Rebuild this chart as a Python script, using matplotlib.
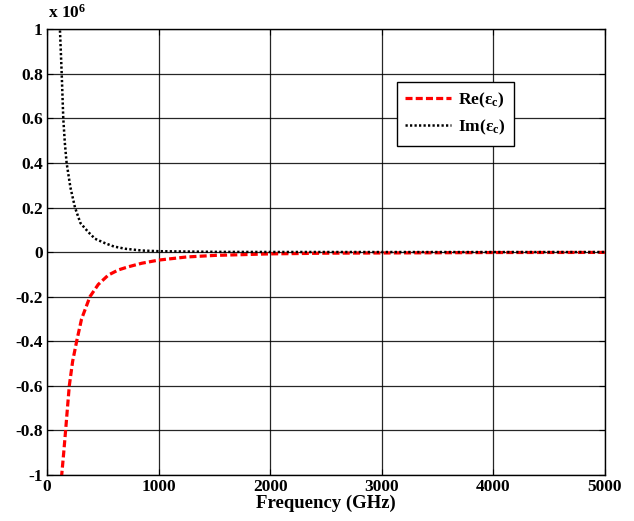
import numpy as np
import matplotlib
matplotlib.use("Agg")
import matplotlib.pyplot as plt
from matplotlib.ticker import FuncFormatter

plt.rcParams['font.family'] = ['Liberation Serif', 'DejaVu Serif']
plt.rcParams['font.weight'] = 'bold'
plt.rcParams['mathtext.fontset'] = 'custom'
plt.rcParams['mathtext.rm'] = 'Liberation Serif:bold'
plt.rcParams['mathtext.it'] = 'Liberation Serif:bold'
plt.rcParams['mathtext.bf'] = 'Liberation Serif:bold'

# Re(eps_c) (GHz, value)
re_freq = [120, 132, 150, 167, 185, 200, 230, 266, 310, 385, 460, 550, 640, 729, 850, 1000,
           1250, 1500, 2000, 2500, 3000, 4000, 5000]
re_vals = [-1.15e6, -1.0e6, -0.9e6, -0.8e6, -0.69e6, -0.6e6, -0.49e6, -0.40e6, -0.30e6, -0.2e6,
           -0.145e6, -0.103e6, -0.08e6, -0.066e6, -0.05e6, -0.036e6,
           -0.022e6, -0.015e6, -0.008e6, -0.005e6, -0.004e6, -0.002e6, -0.0015e6]

# Im(eps_c)
im_freq = [105, 116, 132, 146, 160, 176, 210, 251, 300, 370, 430, 520, 600, 700, 850, 1000,
           1500, 2000, 3000, 5000]
im_vals = [1.3e6, 1.0e6, 0.8e6, 0.6e6, 0.49e6, 0.4e6, 0.29e6, 0.2e6, 0.13e6, 0.09e6, 0.06e6,
           0.04e6, 0.025e6, 0.015e6, 0.007e6, 0.004e6, 0.001e6, 0.0005e6, 0.0002e6, 0.0001e6]

xticks = [0, 1000, 2000, 3000, 4000, 5000]
yticks = np.arange(-1.0, 1.01, 0.2) * 1e6


def yfmt(v, p):
    r = round(v / 1e6, 1) + 0.0
    if abs(r) < 1e-9:
        return '0'
    return '%g' % r


fig = plt.figure(figsize=(6.34, 5.21), dpi=100)
ax = fig.add_axes([0.0741, 0.0883, 0.8799, 0.8557])

ax.plot(re_freq, re_vals, color='red', lw=2.3, linestyle=(0, (2.2, 1.0)), label='Re(ε$_{c}$)')
ax.plot(im_freq, im_vals, color='black', lw=1.8, linestyle=(0, (0.9, 0.9)), label='Im(ε$_{c}$)')

ax.set_xlim(0, 5000)
ax.set_ylim(-1e6, 1e6)
ax.set_xticks(xticks)
ax.set_yticks(yticks)
ax.xaxis.set_major_formatter(FuncFormatter(lambda v, p: '%g' % v))
ax.yaxis.set_major_formatter(FuncFormatter(yfmt))
ax.grid(True, color='black', lw=0.9, alpha=0.85)
ax.tick_params(direction='in', top=True, right=True, labelsize=12.5, length=4, pad=3)
for lab in ax.get_xticklabels() + ax.get_yticklabels():
    lab.set_fontweight('bold')
for s in ax.spines.values():
    s.set_linewidth(1.0)

ax.set_xlabel('Frequency (GHz)', fontsize=13.5, fontweight='bold', labelpad=0)
fig.text(0.075, 0.958, 'x 10$^{6}$', fontsize=12.5, fontweight='bold', ha='left', va='bottom')

leg = ax.legend(loc='upper left', bbox_to_anchor=(0.627, 0.881), borderaxespad=0, fontsize=12.5,
                frameon=True, fancybox=False, edgecolor='black', framealpha=1,
                handlelength=2.6, handletextpad=0.4, borderpad=0.5, labelspacing=0.45)
leg.get_frame().set_linewidth(1.0)

fig.savefig('out.png', dpi=100)
